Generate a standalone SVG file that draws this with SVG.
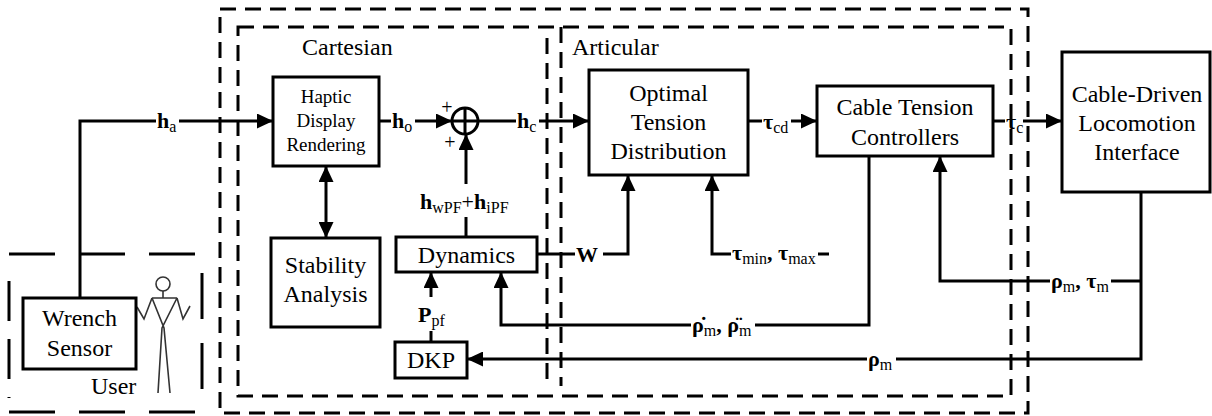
<svg xmlns="http://www.w3.org/2000/svg" width="1212" height="416" viewBox="0 0 1212 416" font-family="'Liberation Serif','Times New Roman','DejaVu Serif',serif">
<style>
.bx{fill:#fff;stroke:#000;stroke-width:3}
.ln{fill:none;stroke:#000;stroke-width:3}
.ds{fill:none;stroke:#000;stroke-width:3;stroke-dasharray:16 9}
.du{fill:none;stroke:#000;stroke-width:3;stroke-dasharray:46 24}
text{font-family:'Liberation Serif','Times New Roman','DejaVu Serif',serif;fill:#000}
.t{font-size:24px;text-anchor:middle}
.ts{font-size:19px;text-anchor:middle}
.lb{font-size:22px;font-weight:bold}
.sb{font-size:16px;font-weight:normal}
.fig{fill:none;stroke:#333;stroke-width:1.6}
</style>
<defs>
<marker id="ah" markerUnits="userSpaceOnUse" markerWidth="16" markerHeight="15" refX="16" refY="7.5" orient="auto-start-reverse">
<path d="M0,0 L16,7.5 L0,15 z" fill="#000"/>
</marker>
</defs>

<g id="regions">
<rect class="ds" x="220" y="9" width="808" height="404"/>
<rect class="ds" x="238" y="27" width="773" height="369"/>
<line class="ds" x1="547" y1="38" x2="547" y2="386"/>
<line class="ds" x1="561" y1="27" x2="561" y2="386"/>
<text x="302" y="55" font-size="24">Cartesian</text>
<text x="572" y="55" font-size="24">Articular</text>
</g>

<g id="user">
<line class="du" x1="9" y1="254" x2="198" y2="254"/>
<line class="du" x1="9" y1="412" x2="198" y2="412"/>
<line class="du" x1="9" y1="281" x2="9" y2="398" style="stroke-dasharray:40 18"/>
<line class="du" x1="202" y1="273" x2="202" y2="392"/>
<text x="91" y="394" font-size="24">User</text>
<g id="stick-figure">
<circle class="fig" cx="163" cy="284" r="7"/>
<path class="fig" d="M163,291 V298 M152,298 H177 M152,298 L144,319 L137,307 M177,298 L183,319 L190,306 M152,298 L164,328 L170,393 M177,298 L162,328 L158,393"/>
</g>
</g>

<g id="wrench-sensor">
<rect class="bx" x="23" y="298" width="113" height="71"/>
<text class="t" x="79.5" y="326">Wrench</text>
<text class="t" x="79.5" y="356">Sensor</text>
</g>

<g id="haptic-display-rendering">
<rect class="bx" x="273" y="77" width="106" height="89"/>
<text class="ts" x="326" y="103">Haptic</text>
<text class="ts" x="326" y="127">Display</text>
<text class="ts" x="326" y="151">Rendering</text>
</g>

<g id="stability-analysis">
<rect class="bx" x="271" y="238" width="109" height="89"/>
<text class="t" x="325.5" y="273">Stability</text>
<text class="t" x="325.5" y="302">Analysis</text>
</g>

<g id="sum">
<circle class="ln" cx="465" cy="121" r="13"/>
<path class="ln" d="M452,121 H478 M465,108 V134"/>
<text x="447" y="114" font-size="20" text-anchor="middle">+</text>
<text x="450" y="149" font-size="20" text-anchor="middle">+</text>
</g>

<g id="dynamics">
<rect class="bx" x="396" y="237" width="141" height="35"/>
<text class="t" x="466.5" y="263">Dynamics</text>
</g>

<g id="dkp">
<rect class="bx" x="395" y="342" width="72" height="36"/>
<text class="t" x="431" y="368">DKP</text>
</g>

<g id="optimal-tension-distribution">
<rect class="bx" x="589" y="70" width="159" height="105"/>
<text class="t" x="668.5" y="101">Optimal</text>
<text class="t" x="668.5" y="130">Tension</text>
<text class="t" x="668.5" y="159">Distribution</text>
</g>

<g id="cable-tension-controllers">
<rect class="bx" x="817" y="86" width="176" height="70"/>
<text class="t" x="905" y="115">Cable Tension</text>
<text class="t" x="905" y="145">Controllers</text>
</g>

<g id="cable-driven-locomotion-interface">
<rect class="bx" x="1062" y="52" width="148" height="140"/>
<text class="t" x="1137" y="102">Cable-Driven</text>
<text class="t" x="1137" y="131">Locomotion</text>
<text class="t" x="1137" y="160">Interface</text>
</g>

<g id="connectors">
<path class="ln" d="M80,298 V121 H156"/>
<path class="ln" d="M179,121 H273" marker-end="url(#ah)"/>
<text class="lb" x="157" y="128">h<tspan class="sb" dy="4">a</tspan></text>
<path class="ln" d="M379,121 H391"/>
<path class="ln" d="M415,121 H452" marker-end="url(#ah)"/>
<text class="lb" x="392" y="128">h<tspan class="sb" dy="4">o</tspan></text>
<path class="ln" d="M478,121 H516"/>
<path class="ln" d="M539,121 H589" marker-end="url(#ah)"/>
<text class="lb" x="517" y="128">h<tspan class="sb" dy="4">c</tspan></text>
<path class="ln" d="M466,184 V134" marker-end="url(#ah)"/>
<path class="ln" d="M466,237 V217"/>
<text class="lb" x="420" y="209">h<tspan class="sb" dy="4">wPF</tspan><tspan dy="-4" font-weight="normal">+</tspan>h<tspan class="sb" dy="4">iPF</tspan></text>
<path class="ln" d="M326,166 V238" marker-start="url(#ah)" marker-end="url(#ah)"/>
<path class="ln" d="M537,254 H575"/>
<path class="ln" d="M603,254 H628 V175" marker-end="url(#ah)"/>
<text class="lb" x="576" y="262" font-size="24">W</text>
<path class="ln" d="M731,254 H712 V175" marker-end="url(#ah)"/>
<path class="ln" d="M818,254 H829"/>
<text class="lb" x="732" y="260">τ<tspan class="sb" dy="4">min</tspan><tspan dy="-4">, τ</tspan><tspan class="sb" dy="4">max</tspan></text>
<path class="ln" d="M748,121 H762"/>
<path class="ln" d="M791,121 H817" marker-end="url(#ah)"/>
<text class="lb" x="763" y="129">τ<tspan class="sb" dy="4">cd</tspan></text>
<path class="ln" d="M993,121 H1005"/>
<path class="ln" d="M1023,121 H1062" marker-end="url(#ah)"/>
<text class="lb" x="1006" y="129">τ<tspan class="sb" dy="4">c</tspan></text>
<path class="ln" d="M1141,192 V359 H896"/>
<path class="ln" d="M867,359 H467" marker-end="url(#ah)"/>
<text class="lb" x="868" y="366">ρ<tspan class="sb" dy="4">m</tspan></text>
<path class="ln" d="M1141,281 H1111"/>
<path class="ln" d="M1050,281 H940 V156" marker-end="url(#ah)"/>
<text class="lb" x="1051" y="288">ρ<tspan class="sb" dy="4">m</tspan><tspan dy="-4">, τ</tspan><tspan class="sb" dy="4">m</tspan></text>
<path class="ln" d="M869,156 V325 H755"/>
<path class="ln" d="M691,325 H501 V272" marker-end="url(#ah)"/>
<text class="lb" x="692" y="332">ρ̇<tspan class="sb" dy="4">m</tspan><tspan dy="-4">, ρ̈</tspan><tspan class="sb" dy="4">m</tspan></text>
<path class="ln" d="M431,342 V331"/>
<path class="ln" d="M431,297 V272" marker-end="url(#ah)"/>
<text class="lb" x="418" y="322">P<tspan class="sb" dy="4">pf</tspan></text>
</g>
</svg>
